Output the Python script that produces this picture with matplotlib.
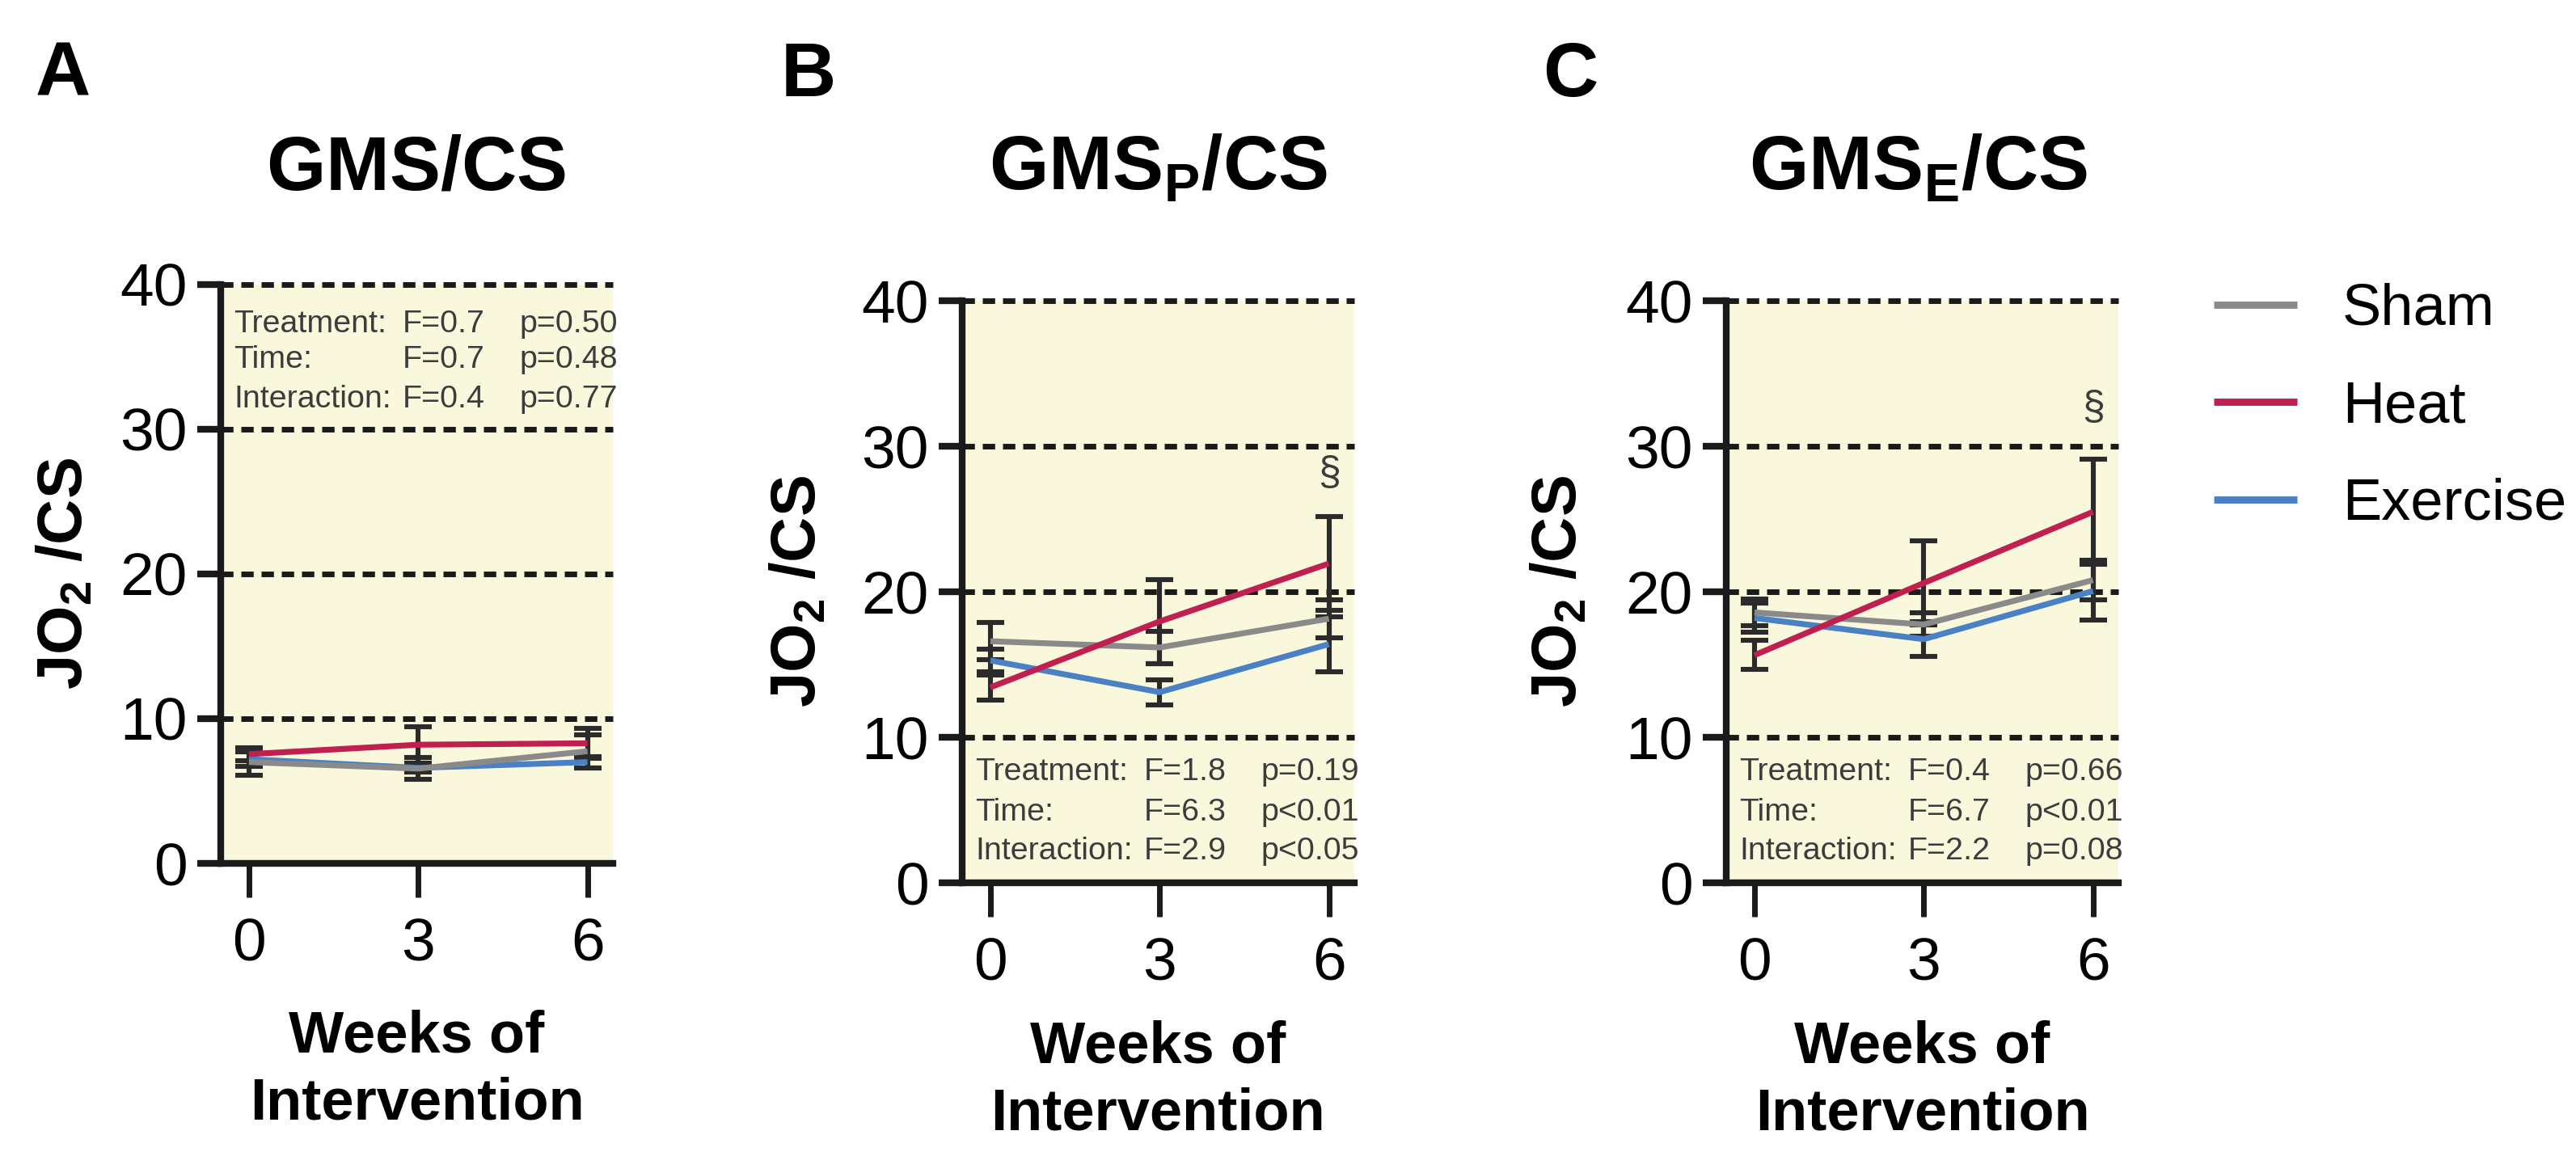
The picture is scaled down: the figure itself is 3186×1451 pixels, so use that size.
"""
Three-panel GMS/CS figure: JO2/CS over weeks of intervention,
Sham / Heat / Exercise, mean +- error, GraphPad-like styling.
"""
import matplotlib.pyplot as plt
import matplotlib as mpl

mpl.rcParams.update({
    "font.family": ["Liberation Sans", "DejaVu Sans"],
    "mathtext.fontset": "custom",
    "mathtext.rm": "Liberation Sans",
    "mathtext.bf": "Liberation Sans:bold",
    "mathtext.it": "Liberation Sans:italic",
    "axes.spines.top": False,
    "axes.spines.right": False,
})

# ---- data ----
weeks = [0, 3, 6]
groups = ["Sham", "Heat", "Exercise"]

# panel A: GMS/CS
sham_a = [7.0, 6.55, 7.75]
sham_a_err = [0.9, 0.75, 1.15]
heat_a = [7.55, 8.2, 8.3]
heat_a_err = [0.45, 1.25, 1.05]
exer_a = [7.2, 6.6, 7.0]
exer_a_err = [0.5, 0.3, 0.4]

# panel B: GMS_P/CS
sham_b = [16.6, 16.17, 18.15]
sham_b_err = [1.27, 1.1, 1.3]
heat_b = [13.43, 17.96, 21.94]
heat_b_err = [0.85, 2.9, 3.2]
exer_b = [15.28, 13.1, 16.4]
exer_b_err = [0.8, 0.85, 1.9]

# panel C: GMS_E/CS
sham_c = [18.58, 17.75, 20.8]
sham_c_err = [0.92, 0.83, 1.37]
heat_c = [15.64, 20.6, 25.49]
heat_c_err = [1.0, 2.9, 3.6]
exer_c = [18.2, 16.74, 20.05]
exer_c_err = [1.0, 1.2, 2.0]

titles = [r"$\mathbf{GMS/CS}$", r"$\mathbf{GMS_P/CS}$", r"$\mathbf{GMS_E/CS}$"]
letters = ["A", "B", "C"]
stat_rows = ["Treatment:", "Time:", "Interaction:"]
stats_f = [["F=0.7", "F=0.7", "F=0.4"],
           ["F=1.8", "F=6.3", "F=2.9"],
           ["F=0.4", "F=6.7", "F=2.2"]]
stats_p = [["p=0.50", "p=0.48", "p=0.77"],
           ["p=0.19", "p<0.01", "p<0.05"],
           ["p=0.66", "p<0.01", "p=0.08"]]
stat_y = [[37.27, 34.8, 32.06], [7.6, 4.85, 2.15], [7.6, 4.85, 2.15]]
section_y = [None, 28.1, 32.6]   # position of the "§" mark at week 6
grid_vals = [10, 20, 30, 40]
yticks = [0, 10, 20, 30, 40]

colors = {"Sham": "#8A8A8A", "Heat": "#C0204F", "Exercise": "#4A80C4"}
err_color = "#2b2b2b"
bg = "#FAF8DC"
text_gray = "#3c3c3c"

panels = [
    {"Sham": (sham_a, sham_a_err), "Heat": (heat_a, heat_a_err), "Exercise": (exer_a, exer_a_err)},
    {"Sham": (sham_b, sham_b_err), "Heat": (heat_b, heat_b_err), "Exercise": (exer_b, exer_b_err)},
    {"Sham": (sham_c, sham_c_err), "Heat": (heat_c, heat_c_err), "Exercise": (exer_c, exer_c_err)},
]

W, H = 3186, 1451
fig = plt.figure(figsize=(W / 200, H / 200), dpi=200)

# axes rectangles in pixels: (left, y of value 0, width, height)
rects = [(273, 1068, 485, 716), (1190, 1092, 485, 720), (2135, 1092, 485, 720)]
letter_x = [44, 966, 1908]
title_cx = [515, 1432, 2372]
ylabel_x = [-0.32, -0.34, -0.35]
xlabel_y = [-0.252, -0.235, -0.235]

axes = []
for i, (l, b, w, h) in enumerate(rects):
    ax = fig.add_axes([l / W, 1 - b / H, w / W, h / H])
    axes.append(ax)
    ax.set_facecolor(bg)
    ax.set_xlim(-0.5, 6.45)
    ax.set_ylim(0, 40)

    for gv in grid_vals:
        ax.axhline(gv, color="#1a1a1a", lw=2.5, dashes=(2.2, 1.4),
                   zorder=1, clip_on=False)

    data = panels[i]
    for g in ["Exercise", "Sham", "Heat"]:
        vals, errs = data[g]
        ax.errorbar(weeks, vals, yerr=errs, fmt="none", ecolor=err_color,
                    elinewidth=2.2, capsize=6, capthick=2.2, zorder=2)
    for g in ["Exercise", "Sham", "Heat"]:
        vals, errs = data[g]
        ax.plot(weeks, vals, color=colors[g], lw=2.6, zorder=3,
                solid_capstyle="butt", label=g)

    for s in ["left", "bottom"]:
        ax.spines[s].set_linewidth(3.0)
        ax.spines[s].set_color("#1a1a1a")
        ax.spines[s].set_zorder(4)
    ax.set_xticks(weeks)
    ax.set_yticks(yticks)
    ax.tick_params(axis="y", length=10.5, width=3.0, pad=4.5,
                   labelsize=27, color="#1a1a1a")
    ax.tick_params(axis="x", length=15, width=2.5, pad=9,
                   labelsize=27, color="#1a1a1a")

    ax.set_ylabel(r"$\mathbf{JO_2\ /CS}$", fontsize=28)
    ax.yaxis.set_label_coords(ylabel_x[i], 0.5)
    ax.set_xlabel("Weeks of\nIntervention", fontsize=26,
                  fontweight="bold", linespacing=1.28)
    ax.xaxis.set_label_coords(0.5, xlabel_y[i])

    for r in range(3):
        y = stat_y[i][r]
        ax.text(-0.27, y, stat_rows[r], fontsize=14.2, color=text_gray,
                va="center", ha="left", zorder=5, clip_on=False)
        ax.text(2.72, y, stats_f[i][r], fontsize=14.2, color=text_gray,
                va="center", ha="left", zorder=5, clip_on=False)
        ax.text(4.8, y, stats_p[i][r], fontsize=14.2, color=text_gray,
                va="center", ha="left", zorder=5, clip_on=False)

    if section_y[i] is not None:
        ax.text(6, section_y[i], "\u00a7", fontsize=18, color=text_gray,
                ha="center", va="center", zorder=5)

    fig.text(letter_x[i] / W, 1 - 119 / H, letters[i], fontsize=34,
             fontweight="bold", ha="left", va="baseline")
    fig.text(title_cx[i] / W, 1 - 234 / H, titles[i], fontsize=34,
             ha="center", va="baseline")

handles, labels = axes[2].get_legend_handles_labels()
hd = dict(zip(labels, handles))
leg = fig.legend([hd[g] for g in groups], groups, loc="upper left",
                 bbox_to_anchor=(2738 / W, 1 - 350 / H), frameon=False,
                 fontsize=26, handlelength=1.42, handletextpad=0.78,
                 labelspacing=0.74, borderpad=0, borderaxespad=0)
for ln in leg.get_lines():
    ln.set_linewidth(3.2)

fig.savefig("out.png", dpi=200)
